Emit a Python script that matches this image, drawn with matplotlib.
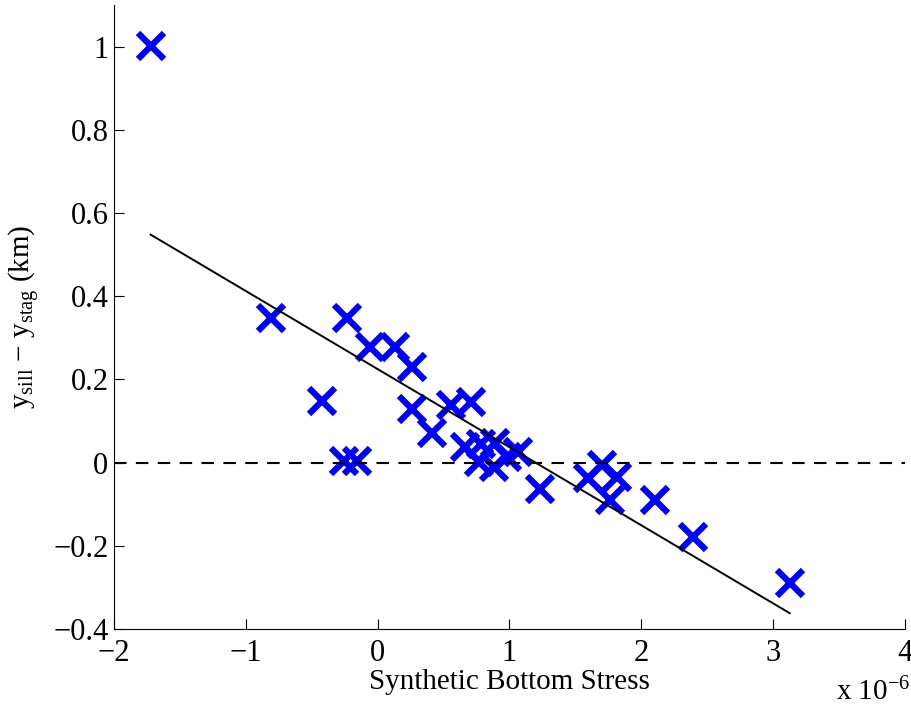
import matplotlib
matplotlib.use('Agg')
import matplotlib.pyplot as plt
from matplotlib.ticker import FuncFormatter

plt.rcParams['font.family'] = ['Liberation Serif', 'DejaVu Serif']
plt.rcParams['mathtext.fontset'] = 'custom'
plt.rcParams['mathtext.rm'] = 'Liberation Serif'
plt.rcParams['mathtext.it'] = 'Liberation Serif:italic'

# bottom stress (units of 1e-6) vs y_sill - y_stag (km)
stress = [-1.722, -0.812, -0.425, -0.235, -0.258, -0.159, -0.061, 0.129,
          0.258, 0.258, 0.410, 0.554, 0.706, 0.660, 0.781, 0.766,
          0.888, 0.880, 0.979, 1.062, 1.229, 1.593, 1.700, 1.813,
          1.760, 2.102, 2.390, 3.126]
dy = [1.002, 0.347, 0.148, 0.347, 0.003, 0.003, 0.277, 0.277,
      0.229, 0.128, 0.071, 0.138, 0.145, 0.037, 0.044, 0.001,
      0.047, -0.011, 0.013, 0.025, -0.064, -0.037, -0.006, -0.035,
      -0.090, -0.090, -0.179, -0.289]

# linear fit endpoints
fit_x = [-1.722, 3.126]
fit_y = [0.548, -0.362]

fig = plt.figure(figsize=(9.11, 7.09), dpi=100)
ax = fig.add_axes([0.1251, 0.1128, 0.8683, 0.8802])

ax.plot(stress, dy, 'x', color=(0, 0, 1), markersize=19, markeredgewidth=4.5)
ax.plot(fit_x, fit_y, '-', color='k', linewidth=1.4)
ax.plot([-2, 4], [0, 0], '--', color='k', linewidth=1.5, dashes=(6, 4.5))

ax.set_xlim(-2, 4)
ax.set_ylim(-0.4, 1.1)
ax.set_xticks([-2, -1, 0, 1, 2, 3, 4])
ax.set_yticks([-0.4, -0.2, 0, 0.2, 0.4, 0.6, 0.8, 1])
fmt = FuncFormatter(lambda v, p: ('%g' % v).replace('-', '\u2212'))
ax.xaxis.set_major_formatter(fmt)
ax.yaxis.set_major_formatter(fmt)

ax.spines['top'].set_visible(False)
ax.spines['right'].set_visible(False)
ax.tick_params(direction='in', length=7, width=0.8, labelsize=22)
ax.tick_params(axis='x', pad=7)
ax.tick_params(axis='y', pad=4)

ax.set_xlabel('Synthetic Bottom Stress', fontsize=21, labelpad=1)
ax.set_ylabel(r'$\mathrm{y_{sill}}$ $-$ $\mathrm{y_{stag}}$ (km)', fontsize=21, labelpad=8)
fig.text(0.918, 0.004, r'x 10$^{-6}$', fontsize=21, ha='left', va='bottom')

fig.savefig('out.png', dpi=100)
